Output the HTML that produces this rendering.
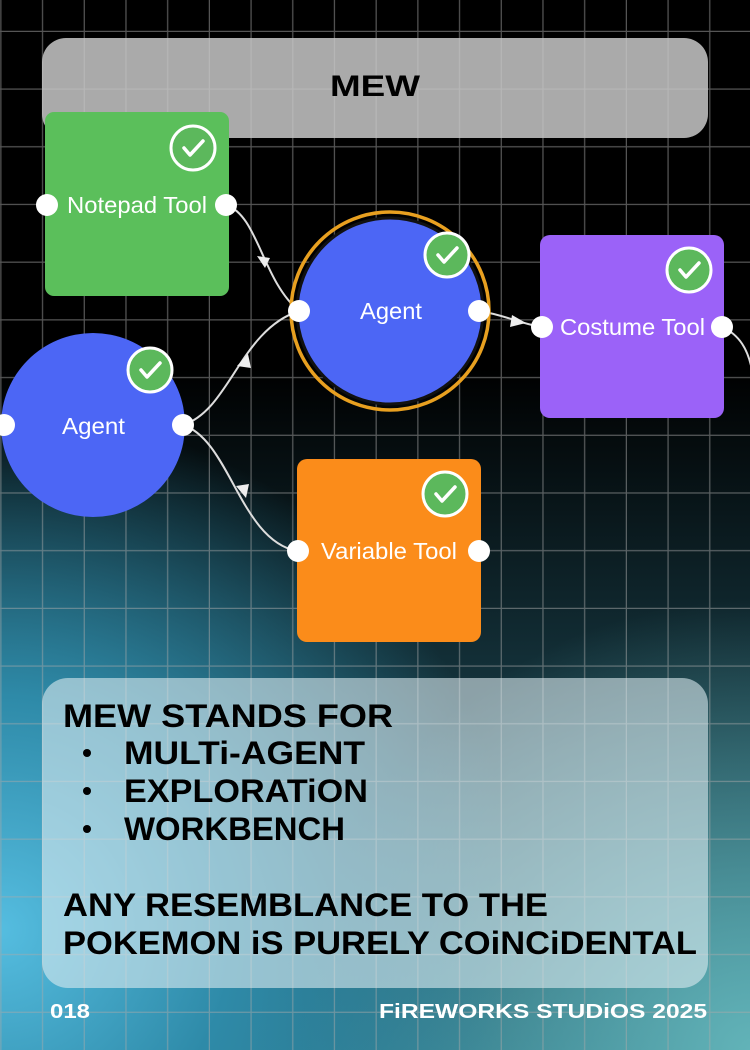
<!DOCTYPE html>
<html><head><meta charset="utf-8"><style>
html,body{margin:0;padding:0;background:#000;}
svg{display:block}
</style></head><body>
<svg width="750" height="1050" viewBox="0 0 750 1050" xmlns="http://www.w3.org/2000/svg">
<defs>
<radialGradient id="bg1" cx="0" cy="930" r="520" gradientUnits="userSpaceOnUse">
<stop offset="0" stop-color="#55bde0"/>
<stop offset="0.45" stop-color="#2e8aa8"/>
<stop offset="1" stop-color="#2e8aa8" stop-opacity="0"/>
</radialGradient>
<radialGradient id="bg2" cx="750" cy="1050" r="450" gradientUnits="userSpaceOnUse">
<stop offset="0" stop-color="#62b3b8"/>
<stop offset="1" stop-color="#62b3b8" stop-opacity="0"/>
</radialGradient>
<linearGradient id="bg0" x1="0" y1="0" x2="0" y2="1">
<stop offset="0" stop-color="#000"/>
<stop offset="0.35" stop-color="#000"/>
<stop offset="0.7" stop-color="#173a44"/>
<stop offset="1" stop-color="#2b6f80"/>
</linearGradient>
<pattern id="grid" x="-40.2" y="-25.7" width="41.7" height="57.7" patternUnits="userSpaceOnUse">
<path d="M41.7 0V57.7M0 57.7H41.7" stroke="rgba(170,170,170,0.5)" stroke-width="2.5" fill="none"/>
</pattern>
<g id="chk">
<circle r="22" fill="#5cb85c" stroke="#fff" stroke-width="3"/>
<path d="M-9 0 L-3 7 L10 -7" stroke="#fff" stroke-width="3.5" fill="none" stroke-linecap="round" stroke-linejoin="round"/>
</g>
</defs>
<rect width="750" height="1050" fill="url(#bg0)"/>
<rect width="750" height="1050" fill="url(#bg2)"/>
<rect width="750" height="1050" fill="url(#bg1)"/>
<rect width="750" height="1050" fill="url(#grid)"/>

<rect x="42" y="38" width="666" height="100" rx="24" fill="rgba(200,200,200,0.85)"/>
<text x="375" y="96" text-anchor="middle" font-family="Liberation Sans, sans-serif" font-weight="bold" font-size="30" fill="#000" textLength="90" lengthAdjust="spacingAndGlyphs">MEW</text>

<g stroke="#ddd" stroke-width="2" fill="none">
<path d="M226 205 C258 215 262 280 299 311"/>
<path d="M183 425 C230 410 240 330 299 311"/>
<path d="M183 425 C230 440 240 540 297 551"/>
<path d="M479 311 C505 315 515 322 541 327"/>
<path d="M722 327 C740 335 748 350 752 370"/>
</g>
<g fill="#eee">
<path d="M257 256 L270 258 L265 268 Z"/>
<path d="M237 366 L248 354 L251 368 Z"/>
<path d="M236 486 L249 484 L246 498 Z"/>
<path d="M512 315 L526 323 L510 327 Z"/>
</g>

<g font-family="Liberation Sans, sans-serif" font-size="23" fill="#fff">
<rect x="45" y="112" width="184" height="184" rx="9" fill="#5bbf5b"/>
<use href="#chk" x="193" y="148"/>
<text x="67" y="213" textLength="140" lengthAdjust="spacingAndGlyphs">Notepad Tool</text>
<circle cx="47" cy="205" r="11" fill="#fff"/><circle cx="226" cy="205" r="11" fill="#fff"/>

<circle cx="390" cy="311" r="99" fill="none" stroke="#e8a020" stroke-width="3.5"/>
<circle cx="390" cy="311" r="93" fill="#4c66f5" stroke="#111" stroke-width="3"/>
<use href="#chk" x="447" y="255"/>
<text x="360" y="319" textLength="62" lengthAdjust="spacingAndGlyphs">Agent</text>
<circle cx="299" cy="311" r="11" fill="#fff"/><circle cx="479" cy="311" r="11" fill="#fff"/>

<rect x="540" y="235" width="184" height="183" rx="10" fill="#9b62f8"/>
<use href="#chk" x="689" y="270"/>
<text x="560" y="335" textLength="145" lengthAdjust="spacingAndGlyphs">Costume Tool</text>
<circle cx="542" cy="327" r="11" fill="#fff"/><circle cx="722" cy="327" r="11" fill="#fff"/>

<ellipse cx="93" cy="425" rx="92" ry="92" fill="#4c66f5"/>
<use href="#chk" x="150" y="370"/>
<text x="62" y="434" textLength="63" lengthAdjust="spacingAndGlyphs">Agent</text>
<circle cx="4" cy="425" r="11" fill="#fff"/><circle cx="183" cy="425" r="11" fill="#fff"/>

<rect x="297" y="459" width="184" height="183" rx="10" fill="#fb8c1a"/>
<use href="#chk" x="445" y="494"/>
<text x="321" y="559" textLength="136" lengthAdjust="spacingAndGlyphs">Variable Tool</text>
<circle cx="298" cy="551" r="11" fill="#fff"/><circle cx="479" cy="551" r="11" fill="#fff"/>
</g>

<rect x="42" y="678" width="666" height="310" rx="26" fill="rgba(220,235,240,0.6)"/>
<g font-family="Liberation Sans, sans-serif" font-weight="bold" font-size="32" fill="#000">
<text x="63" y="727" textLength="330" lengthAdjust="spacingAndGlyphs">MEW STANDS FOR</text>
<text x="124" y="764" textLength="241" lengthAdjust="spacingAndGlyphs">MULTi-AGENT</text>
<text x="124" y="802" textLength="244" lengthAdjust="spacingAndGlyphs">EXPLORATiON</text>
<text x="124" y="840" textLength="221" lengthAdjust="spacingAndGlyphs">WORKBENCH</text>
<text x="63" y="916" textLength="485" lengthAdjust="spacingAndGlyphs">ANY RESEMBLANCE TO THE</text>
<text x="63" y="954" textLength="634" lengthAdjust="spacingAndGlyphs">POKEMON iS PURELY COiNCiDENTAL</text>
</g>
<circle cx="87" cy="753" r="4" fill="#000"/>
<circle cx="87" cy="791" r="4" fill="#000"/>
<circle cx="87" cy="829" r="4" fill="#000"/>

<text x="50" y="1018" font-family="Liberation Sans, sans-serif" font-weight="bold" font-size="20" fill="#fff" textLength="40" lengthAdjust="spacingAndGlyphs">018</text>
<text x="379" y="1018" font-family="Liberation Sans, sans-serif" font-weight="bold" font-size="20" fill="#fff" textLength="328" lengthAdjust="spacingAndGlyphs">FiREWORKS STUDiOS 2025</text>
</svg>
</body></html>
